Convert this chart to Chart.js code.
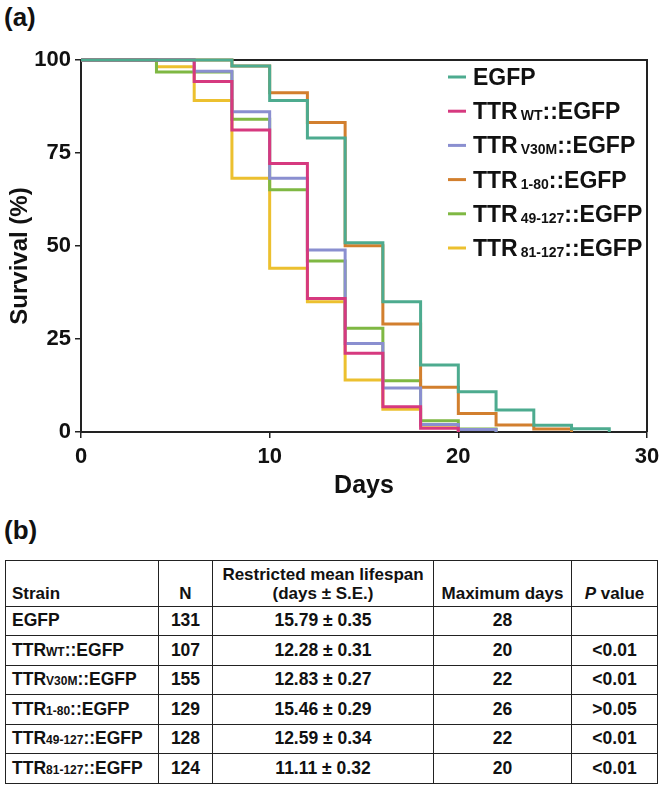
<!DOCTYPE html>
<html>
<head>
<meta charset="utf-8">
<script src="https://cdn.jsdelivr.net/npm/chart.js@4.4.1/dist/chart.umd.min.js"></script>
<style>
  body { margin: 0; background: #fff; width: 666px; height: 788px; position: relative; overflow: hidden;
         font-family: "Liberation Sans", Arial, sans-serif; color: #111; }
  .panel { position: absolute; left: 4px; font-weight: bold; font-size: 26px; }
  #wrap { position: absolute; left: 0; top: 0; width: 666px; height: 502px; }
  table { position: absolute; left: 5px; top: 560px; width: 653px; border-collapse: collapse;
          table-layout: fixed; font-weight: bold; font-size: 17.5px; }
  td, th { border: 1.5px solid #222; padding: 0 6px; height: 28.5px; text-align: center; white-space: nowrap; }
  th { font-size: 17px; height: 41.5px; vertical-align: bottom; padding-bottom: 3px; line-height: 19px; }
  td.s, th.s { text-align: left; padding-left: 6px; }
  sub { font-size: 12px; vertical-align: baseline; }
</style>
</head>
<body>
<div class="panel" style="top:2px">(a)</div>
<div id="wrap"><canvas id="chart"></canvas></div>
<div class="panel" style="top:515px">(b)</div>
<table id="tbl"></table>

<script>
const days = [0, 2, 4, 6, 8, 10, 12, 14, 16, 18, 20, 22, 24, 26, 28];
const egfp     = [100, 100, 100, 100, 98.4, 89.1, 79.0, 50.9, 35.0, 18.0, 10.8, 5.9, 1.8, 0.9, 0];
const ttrWT    = [100, 100, 100, 94.2, 81.2, 72.2, 35.9, 21.2, 6.8, 1.0, 0];
const ttrV30M  = [100, 100, 100, 97.0, 86.1, 68.2, 48.9, 23.8, 11.8, 2.0, 0.7, 0];
const ttr1_80  = [100, 100, 100, 100, 98.4, 91.2, 83.2, 50.1, 29.0, 12.0, 5.0, 1.9, 0.8, 0];
const ttr49    = [100, 100, 96.8, 96.8, 84.1, 65.1, 46.0, 27.9, 13.8, 3.0, 0.8, 0];
const ttr81    = [100, 100, 98.2, 89.1, 68.2, 44.0, 35.0, 14.0, 6.1, 1.8, 0];

const strainBase = ['EGFP', 'TTR', 'TTR', 'TTR', 'TTR', 'TTR'];
const strainSub  = ['', 'WT', 'V30M', '1-80', '49-127', '81-127'];
const strainTail = ['', '::EGFP', '::EGFP', '::EGFP', '::EGFP', '::EGFP'];
const colors = ['#4dab8f', '#d6397f', '#8a8fd0', '#d27f2e', '#7fb843', '#ecc02f'];
const series = [egfp, ttrWT, ttrV30M, ttr1_80, ttr49, ttr81];

// table (b)
const nValues  = [131, 107, 155, 129, 128, 124];
const meanLife = ['15.79 ± 0.35', '12.28 ± 0.31', '12.83 ± 0.27', '15.46 ± 0.29', '12.59 ± 0.34', '11.11 ± 0.32'];
const maxDays  = [28, 20, 22, 26, 22, 20];
const pValues  = ['', '<0.01', '<0.01', '>0.05', '<0.01', '<0.01'];

const ink = '#222';
const fam = '"Liberation Sans", Arial, sans-serif';
const boldFont = s => ({ family: fam, size: s, weight: 'bold' });

const frame = {
  id: 'frame',
  beforeDatasetsDraw(chart) {
    const { ctx, chartArea: a } = chart;
    ctx.save();
    ctx.strokeStyle = ink;
    ctx.lineWidth = 2;
    ctx.beginPath();
    ctx.moveTo(a.left, a.top);
    ctx.lineTo(a.right, a.top);
    ctx.lineTo(a.right, a.bottom);
    ctx.stroke();
    // y title, a bit below the axis middle like the original
    ctx.fillStyle = '#111';
    ctx.font = 'bold 24px ' + fam;
    ctx.textAlign = 'center';
    ctx.textBaseline = 'middle';
    ctx.translate(20, (a.top + a.bottom) / 2 + 10);
    ctx.rotate(-Math.PI / 2);
    ctx.fillText('Survival (%)', 0, 0);
    ctx.restore();
  }
};

const subLegend = {
  id: 'subLegend',
  afterDraw(chart) {
    const ctx = chart.ctx;
    const x0 = 448, y0 = 77, step = 34.2;
    ctx.save();
    ctx.textBaseline = 'alphabetic';
    chart.data.datasets.forEach((ds, i) => {
      const y = y0 + i * step;
      ctx.strokeStyle = ds.borderColor;
      ctx.lineWidth = 3;
      ctx.beginPath();
      ctx.moveTo(x0, y);
      ctx.lineTo(x0 + 18, y);
      ctx.stroke();
      let x = x0 + 25;
      const base = y + 8;
      ctx.fillStyle = '#111';
      ctx.font = 'bold 23px ' + fam;
      ctx.fillText(strainBase[i], x, base);
      x += ctx.measureText(strainBase[i]).width;
      if (strainSub[i]) {
        x += 3;
        ctx.font = 'bold 14px ' + fam;
        ctx.fillText(strainSub[i], x, base + 1);
        x += ctx.measureText(strainSub[i]).width;
        ctx.font = 'bold 23px ' + fam;
        ctx.fillText(strainTail[i], x, base);
      }
    });
    ctx.restore();
  }
};

new Chart(document.getElementById('chart'), {
  type: 'line',
  data: {
    datasets: series.map((vals, i) => ({
      label: strainBase[i] + strainSub[i] + strainTail[i],
      data: vals.map((v, k) => ({ x: days[k], y: v })),
      borderColor: colors[i],
      borderWidth: 3,
      pointRadius: 0,
      stepped: 'before',
      fill: false,
      clip: 4
    }))
  },
  options: {
    responsive: true,
    maintainAspectRatio: false,
    animation: false,
    layout: { padding: { top: 60, right: 19, left: 0, bottom: 0 } },
    plugins: { legend: { display: false }, tooltip: { enabled: false } },
    scales: {
      x: {
        type: 'linear', min: 0, max: 30,
        afterFit: s => { s.height = 70; },
        ticks: { stepSize: 10, color: '#111', font: boldFont(22), padding: 6, maxRotation: 0 },
        grid: { drawOnChartArea: false, tickLength: 6, color: ink, lineWidth: 1.5 },
        border: { color: ink, width: 2 },
        title: { display: true, text: 'Days', color: '#111', font: boldFont(25), padding: { top: 0, bottom: 1 } }
      },
      y: {
        min: 0, max: 100,
        afterFit: s => { s.width = 81; },
        ticks: { stepSize: 25, color: '#111', font: boldFont(22), padding: 4 },
        grid: { drawOnChartArea: false, tickLength: 6, color: ink, lineWidth: 1.5 },
        border: { color: ink, width: 2 },
        title: { display: false }
      }
    }
  },
  plugins: [frame, subLegend]
});

// build the table
const tbl = document.getElementById('tbl');
let html = '<colgroup><col style="width:153px"><col style="width:54px"><col style="width:221px">' +
  '<col style="width:138px"><col></colgroup>' +
  '<tr><th class="s">Strain</th><th>N</th>' +
  '<th>Restricted mean lifespan<br>(days ± S.E.)</th>' +
  '<th>Maximum days</th><th><i>P</i> value</th></tr>';
strainBase.forEach((b, i) => {
  const name = strainSub[i] ? b + '<sub>' + strainSub[i] + '</sub>' + strainTail[i] : b;
  html += '<tr><td class="s">' + name + '</td><td>' + nValues[i] + '</td><td>' + meanLife[i] +
    '</td><td>' + maxDays[i] + '</td><td>' + pValues[i] + '</td></tr>';
});
tbl.innerHTML = html;
</script>
</body>
</html>
